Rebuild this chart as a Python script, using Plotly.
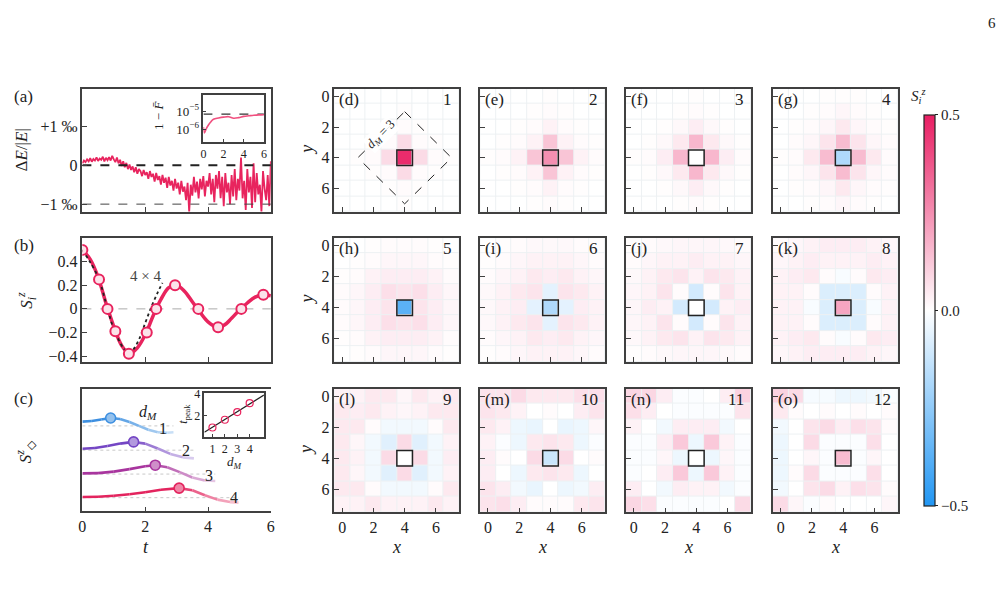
import plotly.graph_objects as go

W, H = 1007, 599
FONT = "Liberation Serif, Times New Roman, Times, serif"
CRIM = "#e8245e"
AXC = "#404040"

# ---------------- data ----------------
# (a) relative energy error in permille
t_a = [round(0.05 * i, 2) for i in range(121)]
dE = [0.05, 0.12, 0.08, 0.15, 0.10, 0.18, 0.09, 0.16, 0.12, 0.20, 0.11, 0.17, 0.14, 0.22, 0.10, 0.19, 0.13, 0.21, 0.12, 0.24, 0.15,
      0.08, 0.20, 0.05, 0.14, -0.02, 0.10, -0.05, 0.06, -0.10, 0.02, -0.12, -0.03, -0.18, -0.05, -0.22, -0.10, -0.15, -0.28, -0.12, -0.25,
      -0.18, -0.35, -0.15, -0.30, -0.22, -0.42, -0.20, -0.38, -0.28, -0.50, -0.25, -0.45, -0.32, -0.58, -0.30, -0.52, -0.40, -0.65, -0.35, -0.60,
      -0.45, -0.75, -0.40, -0.68, -0.55, -0.90, -0.45, -1.20, -0.50, -0.78, -0.30, -0.70, -0.42, -0.85, -0.35, -0.62, -0.28, -0.80, -0.40, -0.55,
      -0.20, -0.75, -0.35, -0.95, -0.25, -0.60, -0.15, -0.85, -0.30, -1.05, -0.20, -0.70, -0.45, -1.00, -0.25, -0.80, -0.10, -0.90, -0.35, -0.65,
      0.20, -0.85, -0.40, -1.15, -0.10, -0.70, -0.30, -1.10, 0.05, -0.95, -0.20, -0.75, -0.50, -1.20, -0.15, -0.60, -0.90, -0.25, -1.05, 0.10]
# (a) inset: infidelity
t_inf = [0, 0.1, 0.3, 0.5, 0.75, 1.0, 1.5, 2.0, 2.5, 3.0, 3.5, 4.0, 4.5, 5.0, 5.5, 6.0]
infid = [1.3e-6, 6e-7, 1.1e-6, 1.7e-6, 2.6e-6, 3.6e-6, 4.2e-6, 4.7e-6, 5.0e-6, 4.1e-6, 4.4e-6, 5.2e-6, 5.6e-6, 6.0e-6, 6.3e-6, 6.5e-6]
inf_ref = 7e-6

# (b) local magnetisation
t_b = [0, 0.25, 0.5, 0.75, 1.0, 1.25, 1.5, 1.75, 2.0, 2.25, 2.5, 2.75, 3.0, 3.25, 3.5, 3.75, 4.0, 4.25, 4.5, 4.75, 5.0, 5.25, 5.5, 5.75, 6.0]
s_b = [0.5, 0.42, 0.27, 0.05, -0.15, -0.31, -0.38, -0.33, -0.22, -0.06, 0.08, 0.18, 0.20, 0.15, 0.06, -0.03, -0.11, -0.15, -0.14, -0.08, -0.01, 0.05, 0.10, 0.12, 0.11]
t_mk = [0, 0.53, 0.8, 1.05, 1.48, 2.05, 2.35, 2.95, 3.69, 4.32, 5.06, 5.76]
s_mk = [0.5, 0.25, 0.0, -0.19, -0.38, -0.2, 0.0, 0.2, 0.0, -0.155, 0.0, 0.12]
t_44 = [0, 0.5, 0.8, 1.0, 1.3, 1.45, 1.6, 1.8, 2.0, 2.2, 2.4, 2.55]
s_44 = [0.5, 0.27, 0.0, -0.17, -0.33, -0.37, -0.35, -0.26, -0.12, 0.02, 0.14, 0.22]

# (c) diamond magnetisation (arb. units, stacked)
c_t = [[0, 0.3, 0.6, 0.9, 1.2, 1.5, 1.8, 2.1, 2.4, 2.7, 2.9],
       [0, 0.4, 0.8, 1.2, 1.63, 2.0, 2.4, 2.8, 3.2, 3.55],
       [0, 0.5, 1.0, 1.5, 2.0, 2.32, 2.7, 3.1, 3.5, 3.9, 4.23],
       [0, 0.5, 1.0, 1.5, 2.0, 2.5, 3.08, 3.5, 3.9, 4.3, 4.7, 4.97]]
c_val = [[4.3, 5, 6.5, 8, 7, 4, 0, -4, -6.5, -7, -6.5],
         [1.4, 2.2, 4.2, 6.7, 8.4, 6.7, 1.7, -3.8, -7.3, -8.3],
         [0.7, 1, 2.5, 5, 8, 9, 7, 2, -3.5, -6.5, -7],
         [0.7, 1, 2, 3.5, 5.5, 8, 9.7, 7.5, 2.5, -2, -4.5, -5]]
c_peak_idx = [3, 4, 5, 6]
c_offset = [87, 62.3, 38, 14]
c_colors = ["#3d8fe0", "#7446c4", "#a8359e", "#e3245e"]
dM = [1, 2, 3, 4]
t_peak = [0.89, 1.6, 2.3, 3.11]
fit_x = [0.35, 5.15]
fit_y = [0.45, 3.85]

# heatmaps S_i^z (rows y = 0..7, columns x = 0..7)
hm = [
 [[0,0,0,0,0,0,0,0],[0,0,0,0,0.005,0,0,0],[0,0,0,0.005,0.01,0.005,0,0],[0,0,0.005,0.01,0.08,0.01,0.005,0],
  [0,0.005,0.01,0.08,0.47,0.08,0.01,0.005],[0,0,0.005,0.01,0.08,0.01,0.005,0],[0,0,0,0.005,0.01,0.005,0,0],[0,0,0,0,0.005,0,0,0]],
 [[0,0,0,0,0.005,0,0,0],[0,0,0,0.005,0.01,0.005,0,0],[0,0,0.005,0.01,0.03,0.01,0.005,0],[0,0.005,0.01,0.03,0.13,0.03,0.01,0.005],
  [0.005,0.01,0.03,0.13,0.25,0.13,0.03,0.01],[0,0.005,0.01,0.03,0.13,0.03,0.01,0.005],[0,0,0.005,0.01,0.03,0.01,0.005,0],[0,0,0,0.005,0.01,0.005,0,0]],
 [[0,0,0,0,0.005,0,0,0],[0,0,0,0.005,0.01,0.005,0,0],[0,0,0.005,0.015,0.04,0.015,0.005,0],[0,0.005,0.015,0.05,0.16,0.05,0.015,0.005],
  [0.005,0.01,0.04,0.16,0.0,0.16,0.04,0.01],[0,0.005,0.015,0.05,0.16,0.05,0.015,0.005],[0,0,0.005,0.015,0.04,0.015,0.005,0],[0,0,0,0.005,0.01,0.005,0,0]],
 [[0,0,0,0.005,0.005,0.005,0,0],[0,0,0.005,0.01,0.02,0.01,0.005,0],[0,0.005,0.01,0.02,0.05,0.02,0.01,0.005],[0,0.01,0.02,0.06,0.15,0.06,0.02,0.01],
  [0.005,0.01,0.05,0.15,-0.18,0.15,0.05,0.01],[0,0.01,0.02,0.06,0.15,0.06,0.02,0.01],[0,0.005,0.01,0.02,0.05,0.02,0.01,0.005],[0,0,0.005,0.01,0.02,0.01,0.005,0]],
 [[0,0,0.005,0.01,0.01,0.01,0.005,0],[0,0.005,0.01,0.02,0.02,0.02,0.01,0.005],[0.005,0.01,0.03,0.04,0.04,0.04,0.03,0.01],[0.01,0.02,0.04,0.07,0.06,0.07,0.04,0.02],
  [0.01,0.02,0.04,0.06,-0.37,0.06,0.04,0.02],[0.01,0.02,0.04,0.07,0.06,0.07,0.04,0.02],[0.005,0.01,0.03,0.04,0.04,0.04,0.03,0.01],[0,0.005,0.01,0.02,0.02,0.02,0.01,0.005]],
 [[0,0.005,0.01,0.015,0.015,0.015,0.01,0.005],[0.005,0.01,0.02,0.03,0.03,0.03,0.02,0.01],[0.01,0.02,0.03,0.05,0.04,0.05,0.03,0.02],[0.015,0.03,0.05,0.06,-0.06,0.06,0.05,0.03],
  [0.015,0.03,0.04,-0.06,-0.18,-0.06,0.04,0.03],[0.015,0.03,0.05,0.06,-0.06,0.06,0.05,0.03],[0.01,0.02,0.03,0.05,0.04,0.05,0.03,0.02],[0.005,0.01,0.02,0.03,0.03,0.03,0.02,0.01]],
 [[0.005,0.01,0.015,0.02,0.02,0.02,0.015,0.01],[0.01,0.02,0.03,0.03,0.04,0.03,0.03,0.02],[0.015,0.03,0.05,0.06,0.03,0.06,0.05,0.03],[0.02,0.03,0.06,0.01,-0.1,0.01,0.06,0.03],
  [0.02,0.04,0.03,-0.1,0.0,-0.1,0.03,0.04],[0.02,0.03,0.06,0.01,-0.1,0.01,0.06,0.03],[0.015,0.03,0.05,0.06,0.03,0.06,0.05,0.03],[0.005,0.01,0.015,0.02,0.02,0.02,0.015,0.01]],
 [[0.01,0.02,0.03,0.04,0.04,0.04,0.03,0.02],[0.02,0.03,0.04,0.03,0.03,0.03,0.04,0.03],[0.03,0.04,0.05,0.01,-0.015,0.01,0.05,0.04],[0.03,0.03,0.01,-0.08,-0.08,-0.08,0.01,0.03],
  [0.03,0.03,-0.015,-0.08,0.2,-0.08,-0.015,0.03],[0.03,0.03,0.01,-0.08,-0.08,-0.08,0.01,0.03],[0.03,0.04,0.05,0.01,-0.015,0.01,0.05,0.04],[0.02,0.03,0.04,0.04,0.04,0.04,0.03,0.02]],
 [[0.03,0.03,0.05,0.05,0.02,0.05,0.03,0.05],[0.05,0.04,0.05,0.03,0.02,0.03,0.05,0.05],[0.05,0.05,0.01,-0.03,-0.03,-0.03,0.01,0.05],[0.05,0.02,-0.03,-0.07,0.08,-0.07,-0.03,0.03],
  [0.05,0.03,-0.03,0.08,0.0,0.08,-0.03,0.04],[0.05,0.02,-0.03,-0.07,0.08,-0.07,-0.03,0.03],[0.05,0.05,0.01,-0.03,-0.03,-0.03,0.01,0.05],[0.03,0.03,0.05,0.03,0.03,0.03,0.05,0.03]],
 [[0.06,0.06,0.08,0.05,0.05,0.05,0.07,0.07],[0.06,0.05,0.03,0.0,0.01,0.0,0.04,0.06],[0.05,0.03,-0.04,-0.05,0.0,-0.05,-0.04,0.02],[0.03,-0.01,-0.04,0.05,0.06,0.05,-0.04,-0.01],
  [0.04,0.01,0.0,0.08,-0.12,0.08,0.0,0.01],[0.04,0.0,-0.04,0.05,0.06,0.05,-0.04,0.0],[0.06,0.04,-0.03,-0.05,0.0,-0.04,-0.03,0.04],[0.06,0.07,0.04,0.01,0.01,0.01,0.05,0.06]],
 [[0.09,0.09,0.04,-0.01,-0.01,0.0,0.04,0.1],[0.07,0.04,0.0,-0.01,-0.01,-0.01,-0.01,0.06],[0.03,0.0,-0.03,0.04,0.04,0.04,-0.03,0.0],[-0.01,-0.01,0.04,0.12,-0.04,0.12,0.03,-0.01],
  [-0.01,-0.01,0.02,-0.04,0.0,-0.04,0.02,-0.01],[-0.01,0.0,0.04,0.12,-0.04,0.12,0.03,-0.01],[0.04,0.0,-0.03,0.04,0.03,0.03,-0.03,-0.01],[0.09,0.07,-0.01,-0.01,-0.01,-0.01,0.0,0.08]],
 [[0.1,0.08,-0.02,-0.02,-0.04,-0.04,-0.03,-0.01],[0.05,0.01,0.0,0.01,0.0,0.01,0.0,0.01],[-0.03,0.0,0.06,0.08,0.04,0.07,0.06,0.01],[-0.04,0.0,0.08,-0.01,-0.01,-0.01,0.07,0.0],
  [-0.04,0.0,0.02,-0.01,0.15,-0.01,0.02,0.0],[-0.04,0.01,0.08,-0.01,-0.01,-0.01,0.07,0.0],[-0.03,0.0,0.06,0.08,0.03,0.07,0.06,0.01],[0.08,0.02,-0.01,0.01,0.0,0.0,0.0,0.02]],
]
hm_letters = ["(d)", "(e)", "(f)", "(g)", "(h)", "(i)", "(j)", "(k)", "(l)", "(m)", "(n)", "(o)"]
hm_times = ["1", "2", "3", "4", "5", "6", "7", "8", "9", "10", "11", "12"]
grid_idx = [0, 1, 2, 3, 4, 5, 6, 7]
hm_ticks = [0, 2, 4, 6]

# ---------------- helpers ----------------
def xd(a, b):
    return [a / W, b / W]

def yd(a, b):
    return [1 - b / H, 1 - a / H]

def px(x):
    return x / W

def py(y):
    return 1 - y / H

def hex2rgb(h):
    h = h.lstrip("#")
    return tuple(int(h[i:i + 2], 16) for i in (0, 2, 4))

def mix(c, f):
    r, g, b = hex2rgb(c)
    return "rgb(%d,%d,%d)" % (r + (255 - r) * f, g + (255 - g) * f, b + (255 - b) * f)

def axis(domain, anchor, rng, tickvals=None, ticktext=None, labels=True, mirror=True,
         typ="linear", fs=14, ticklen=5, showline=True):
    d = dict(domain=domain, anchor=anchor, range=rng, type=typ, showgrid=False, zeroline=False,
             showline=showline, mirror=mirror, linecolor=AXC, linewidth=1.5,
             ticks="inside" if tickvals is not None else "", ticklen=ticklen, tickwidth=1.2, tickcolor=AXC,
             showticklabels=labels, tickfont=dict(family=FONT, size=fs, color="#222"))
    if tickvals is not None:
        d["tickmode"] = "array"
        d["tickvals"] = tickvals
        if ticktext is not None:
            d["ticktext"] = ticktext
    return d

fig = go.Figure()
L = {}
shapes = []
ann = []

def txt(x, y, s, size=15, angle=0, xanchor="center", yanchor="middle", color="#222"):
    ann.append(dict(x=px(x), y=py(y), xref="paper", yref="paper", text=s, showarrow=False,
                    font=dict(family=FONT, size=size, color=color), textangle=angle,
                    xanchor=xanchor, yanchor=yanchor))

# ---------------- (a) ----------------
L["xaxis"] = axis(xd(79, 269), "y", [0, 6], [0, 2, 4, 6], labels=False)
L["yaxis"] = axis(yd(83, 208), "x", [-1.19, 1.97], [-1, 0, 1], ["−1 ‰", "0", "+1 ‰"], fs=16)
fig.add_trace(go.Scatter(x=t_a, y=dE, xaxis="x", yaxis="y", mode="lines",
                         line=dict(color=CRIM, width=1.8), showlegend=False))
fig.add_trace(go.Scatter(x=[0, 6], y=[0, 0], xaxis="x", yaxis="y", mode="lines",
                         line=dict(color="#222", width=2.2, dash="dash"), showlegend=False))
fig.add_trace(go.Scatter(x=[0, 6], y=[-1, -1], xaxis="x", yaxis="y", mode="lines",
                         line=dict(color="#444", width=1, dash="dash"), showlegend=False))

# inset (a)
L["xaxis2"] = axis(xd(201, 262), "y2", [0, 6], [0, 2, 4, 6], fs=12, ticklen=3)
L["yaxis2"] = axis(yd(90, 137), "x2", [-6.72, -4.1], [1e-5, 1e-6], ["10<sup>−5</sup>", "10<sup>−6</sup>"],
                   typ="log", fs=13, ticklen=3)
fig.add_trace(go.Scatter(x=[0, 6], y=[inf_ref, inf_ref], xaxis="x2", yaxis="y2", mode="lines",
                         line=dict(color="#333", width=1.1, dash="dash"), showlegend=False))
fig.add_trace(go.Scatter(x=t_inf, y=infid, xaxis="x2", yaxis="y2", mode="lines", line_shape="spline",
                         line=dict(color="#f0507f", width=1.6), showlegend=False))
txt(155, 110, "1 − <i>F̄</i>", size=13, angle=-90)

# ---------------- (b) ----------------
L["xaxis3"] = axis(xd(79, 269), "y3", [0, 6], [0, 2, 4, 6], labels=False)
L["yaxis3"] = axis(yd(235, 361), "x3", [-0.45, 0.6], [-0.4, -0.2, 0, 0.2, 0.4],
                   ["−0.4", "−0.2", "0", "0.2", "0.4"], fs=16)
fig.add_trace(go.Scatter(x=[0, 6], y=[0, 0], xaxis="x3", yaxis="y3", mode="lines",
                         line=dict(color="#aaa", width=1, dash="dash"), showlegend=False))
fig.add_trace(go.Scatter(x=t_b, y=s_b, xaxis="x3", yaxis="y3", mode="lines", line_shape="spline",
                         line=dict(color=CRIM, width=3.5), showlegend=False))
fig.add_trace(go.Scatter(x=t_44, y=s_44, xaxis="x3", yaxis="y3", mode="lines", line_shape="spline",
                         line=dict(color="#222", width=1.8, dash="dot"), showlegend=False))
fig.add_trace(go.Scatter(x=t_mk, y=s_mk, xaxis="x3", yaxis="y3", mode="markers",
                         marker=dict(size=10, color="#fbe3ea", line=dict(color=CRIM, width=2)),
                         showlegend=False))
txt(143, 274, "4 × 4", size=15, color="#444")

# ---------------- (c) ----------------
L["xaxis4"] = axis(xd(79, 269), "y4", [0, 6], [0, 2, 4, 6], fs=16)
L["yaxis4"] = axis(yd(388, 513), "x4", [0, 125], None, labels=False, mirror=False)
L["xaxis4"]["mirror"] = True
for k in range(4):
    tt, vv, off, col, p = c_t[k], c_val[k], c_offset[k], c_colors[k], c_peak_idx[k]
    fig.add_trace(go.Scatter(x=[0, tt[-1]], y=[off, off], xaxis="x4", yaxis="y4", mode="lines",
                             line=dict(color="#c8c8c8", width=1, dash="dot"), showlegend=False))
    n = len(tt)
    for i in range(n - 1):
        f = 0.0 if i < p else 0.72 * (i - p + 1) / (n - 1 - p)
        fig.add_trace(go.Scatter(x=[tt[i], tt[i + 1]], y=[off + vv[i], off + vv[i + 1]], xaxis="x4", yaxis="y4",
                                 mode="lines", line=dict(color=mix(col, f), width=2.6), showlegend=False))
    fig.add_trace(go.Scatter(x=[tt[p]], y=[off + vv[p]], xaxis="x4", yaxis="y4", mode="markers",
                             marker=dict(size=10, color=mix(col, 0.45), line=dict(color=col, width=1.6)),
                             showlegend=False))
for k, (lx, ly) in enumerate([(160, 429), (183, 451), (207, 476), (232, 499)]):
    txt(lx, ly, str(dM[k]), size=16)
txt(145, 412, "<i>d</i><sub><i>M</i></sub>", size=16)

# inset (c)
L["xaxis5"] = axis(xd(202, 262), "y5", [0.35, 5.15], [1, 2, 3, 4], fs=12, ticklen=3)
L["yaxis5"] = axis(yd(393, 437), "x5", [0.05, 4.0], [0, 2, 4], fs=12, ticklen=3)
fig.add_trace(go.Scatter(x=fit_x, y=fit_y, xaxis="x5", yaxis="y5", mode="lines",
                         line=dict(color="#222", width=1.2), showlegend=False))
fig.add_trace(go.Scatter(x=dM, y=t_peak, xaxis="x5", yaxis="y5", mode="markers",
                         marker=dict(size=7, color="rgba(0,0,0,0)", line=dict(color=CRIM, width=1.2)),
                         showlegend=False))
txt(232, 463, "<i>d</i><sub><i>M</i></sub>", size=13)
txt(182, 414, "<i>t</i><sub>peak</sub>", size=12, angle=-90)

# panel labels / axis titles (left column)
txt(8, 91, "(a)", size=17, xanchor="left")
txt(8, 243, "(b)", size=17, xanchor="left")
txt(8, 398, "(c)", size=17, xanchor="left")
txt(18, 145, "Δ<i>E</i>/|<i>E</i>|", size=17, angle=-90)
txt(22, 298, "<i>S</i><sub><i>i</i></sub><sup><i>z</i></sup>", size=17, angle=-90)
txt(22, 452, "<i>S</i><sup><i>z</i></sup><sub>◇</sub>", size=17, angle=-90)
txt(143, 549, "<i>t</i>", size=18)

# ---------------- heatmaps ----------------
cols = [(333, 459), (480, 606), (627, 753), (775, 901)]
rows = [(83, 208), (235, 361), (388, 514)]
for idx in range(12):
    r, c = divmod(idx, 4)
    n = 6 + idx
    xa, ya = "x%d" % n, "y%d" % n
    L["xaxis%d" % n] = axis(xd(*cols[c]), ya, [-0.5, 7.5], hm_ticks, labels=(r == 2), fs=16)
    L["yaxis%d" % n] = axis(yd(*rows[r]), xa, [7.5, -0.5], hm_ticks, labels=(c == 0), fs=16)
    shapes.append(dict(type="rect", xref=xa + " domain", yref=ya + " domain", x0=0, x1=1, y0=0, y1=1,
                       fillcolor="#edf1f3", line=dict(width=0), layer="below"))
    fig.add_trace(go.Heatmap(z=hm[idx], x=grid_idx, y=grid_idx, xaxis=xa, yaxis=ya,
                             coloraxis="coloraxis", xgap=1, ygap=1, hoverinfo="skip"))
    shapes.append(dict(type="rect", xref=xa, yref=ya, x0=3.5, x1=4.5, y0=3.5, y1=4.5,
                       line=dict(color="#222", width=1.5), layer="above"))
    x0, x1 = cols[c]
    y0 = rows[r][0]
    txt(x0 + 3, y0 + 11, hm_letters[idx], size=17, xanchor="left")
    txt(x1 - 5, y0 + 11, hm_times[idx], size=17, xanchor="right")
    if c == 0:
        txt(305, (rows[r][0] + rows[r][1]) / 2, "<i>y</i>", size=18, angle=-90)
    if r == 2:
        txt((x0 + x1) / 2, 549, "<i>x</i>", size=18)

# diamond in (d)
shapes.append(dict(type="path", xref="x6", yref="y6", path="M 4 1 L 7 4 L 4 7 L 1 4 Z",
                   line=dict(color="#222", width=1, dash="dash"), layer="above"))
ann.append(dict(x=2.5, y=2.5, xref="x6", yref="y6", text="<i>d</i><sub><i>M</i></sub> = 3", showarrow=False,
                font=dict(family=FONT, size=13, color="#222"), textangle=-45,
                bgcolor="rgba(255,255,255,0.9)", borderpad=0))

# colorbar title and page number
txt(922, 91, "<i>S</i><sub><i>i</i></sub><sup><i>z</i></sup>", size=15)
txt(996, 16, "6", size=15)

fig.update_layout(
    width=W, height=H, margin=dict(l=0, r=0, t=0, b=0),
    paper_bgcolor="white", plot_bgcolor="white",
    showlegend=False, shapes=shapes, annotations=ann,
    coloraxis=dict(cmin=-0.5, cmax=0.5,
                   colorscale=[[0, "#2196f3"], [0.5, "#ffffff"], [1, "#e91e63"]],
                   colorbar=dict(x=917 / W, xanchor="left", y=py((103 + 514) / 2), yanchor="middle",
                                 lenmode="pixels", len=411, thicknessmode="pixels", thickness=11,
                                 outlinewidth=1.2, outlinecolor="#222",
                                 tickmode="array", tickvals=[-0.5, 0, 0.5], ticktext=["−0.5", "0.0", "0.5"],
                                 ticks="outside", ticklen=3, tickcolor="#222",
                                 tickfont=dict(family=FONT, size=15, color="#222"))),
    **L,
)
fig.write_html("out.html")
